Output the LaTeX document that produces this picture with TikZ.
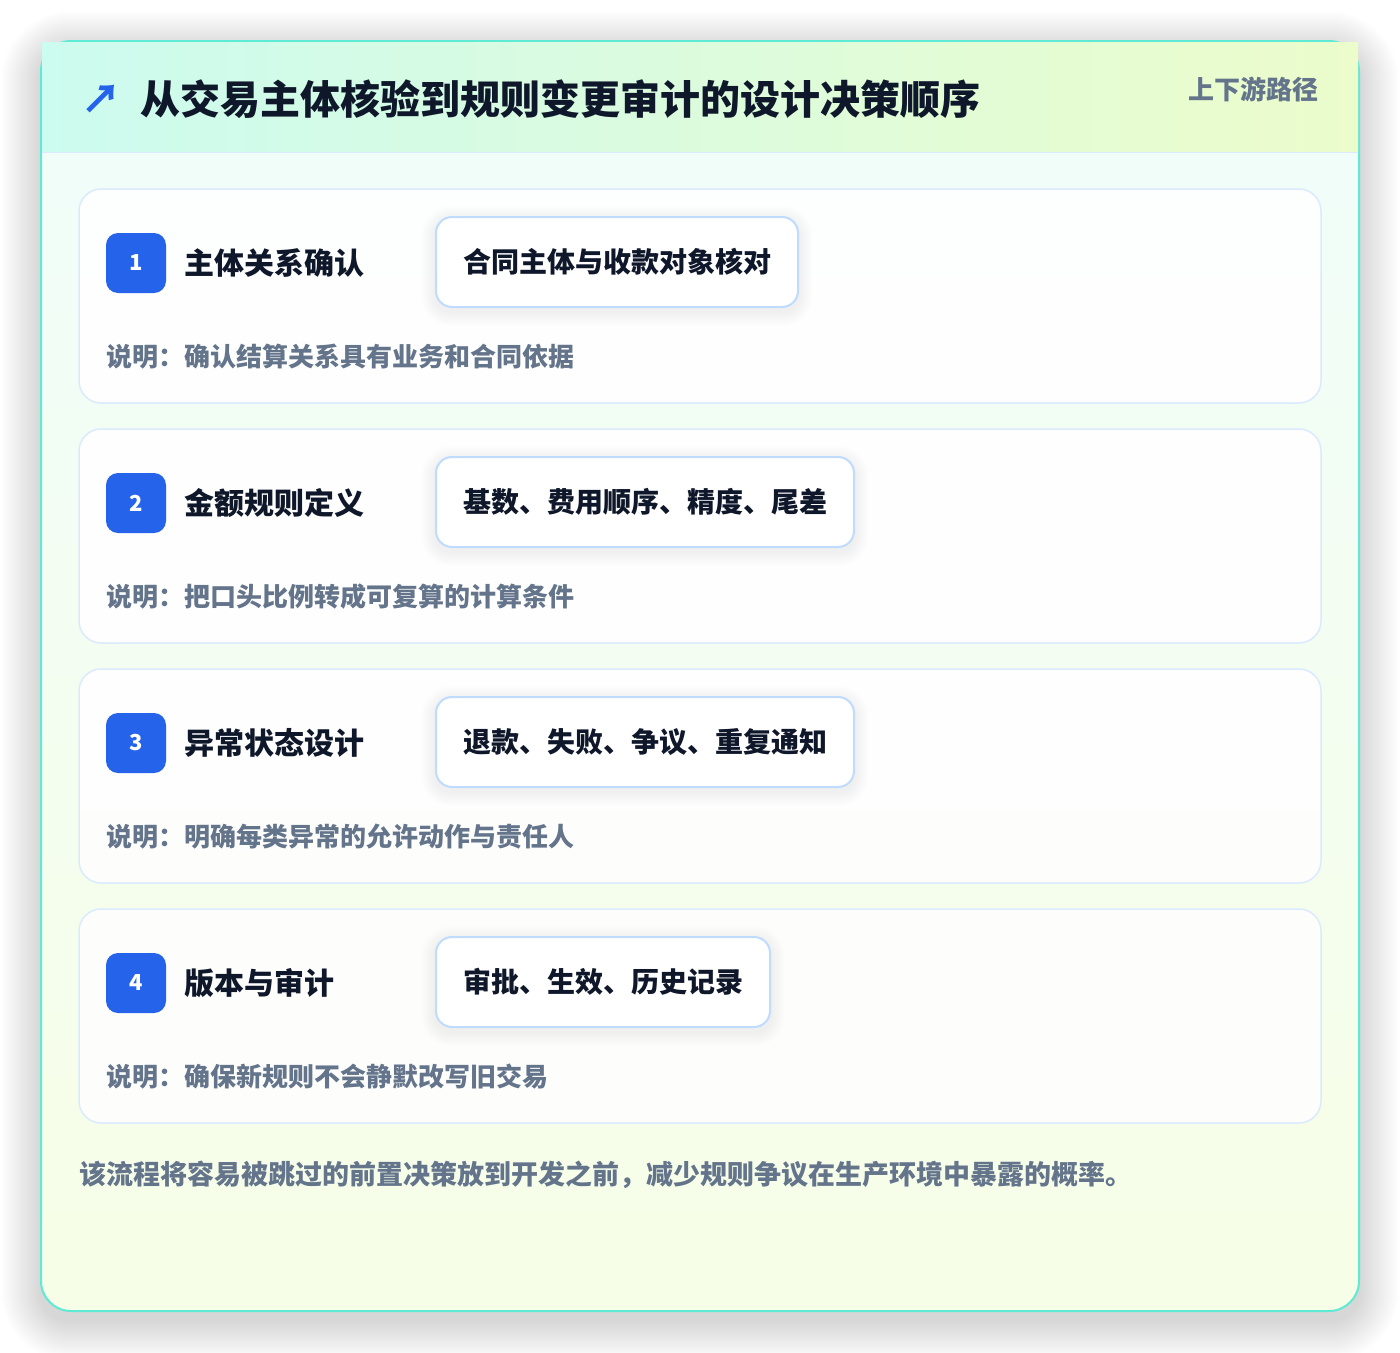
\documentclass[tikz,border=0pt]{standalone}
\usepackage{fontspec}
\setmainfont{Noto Sans CJK SC}
\usetikzlibrary{calc}
\definecolor{frameborder}{HTML}{5EEAD4}
\definecolor{hdrleft}{HTML}{CCFBEF}
\definecolor{hdrright}{HTML}{ECFCCB}
\definecolor{bodytop}{HTML}{F0FDFA}
\definecolor{bodybot}{HTML}{F7FEE7}
\definecolor{cardborder}{HTML}{DBEAFE}
\definecolor{chipborder}{HTML}{BFDBFE}
\definecolor{badgeblue}{HTML}{2563EB}
\definecolor{textdark}{HTML}{0F172A}
\definecolor{textmuted}{HTML}{64748B}
\definecolor{shadowc}{HTML}{1E293B}
\newcommand{\softshadow}[5]{% node, steps, opacity per step, yshift, radius
  \foreach \i in {1,...,#2}{
    \fill[shadowc, opacity=#3, rounded corners=#5+\i]
      ($(#1.north west)+(-\i,-\i+#4)$) rectangle ($(#1.south east)+(\i,\i+#4)$);
  }}
\begin{document}
\begin{tikzpicture}[x=1pt,y=-1pt,
  frame/.style={rectangle, rounded corners=30pt, draw=frameborder, line width=2pt,
    top color=bodytop, bottom color=bodybot, minimum width=1318pt, minimum height=1270pt, inner sep=0pt},
  header/.style={rectangle, left color=hdrleft, right color=hdrright, minimum width=1316pt, minimum height=110pt, inner sep=0pt},
  card/.style={rectangle, rounded corners=22pt, draw=cardborder, line width=1.5pt, fill=white, fill opacity=0.88, draw opacity=1,
    minimum width=1242pt, minimum height=214pt, inner sep=0pt},
  badge/.style={rectangle, rounded corners=12pt, fill=badgeblue, minimum width=60pt, minimum height=60pt, inner sep=0pt,
    text=white, font=\fontsize{22}{26}\selectfont\bfseries},
  steptitle/.style={anchor=west, inner sep=0pt, text=textdark, font=\fontsize{30}{36}\selectfont\bfseries},
  chip/.style={anchor=west, rectangle, rounded corners=16pt, draw=chipborder, line width=2pt, fill=white,
    minimum height=90pt, inner xsep=27pt, inner ysep=0pt, text=textdark, font=\fontsize{28}{34}\selectfont\bfseries},
  chipghost/.style={chip, draw=none, fill=none, text opacity=0},
  desc/.style={anchor=west, inner sep=0pt, text=textmuted, font=\fontsize{26}{32}\selectfont\bfseries}
]
\useasboundingbox (0,0) rectangle (1400,1352);
\fill[white] (0,0) rectangle (1400,1352);

% frame with soft shadow
\node[inner sep=0pt, minimum width=1318pt, minimum height=1270pt] (fshadow) at (700,676) {};
\softshadow{fshadow}{40}{0.002}{10}{30}
\node[frame] (frame) at (700,676) {};
\node[header] (header) at (700,97.25) {};
\draw[cardborder, line width=1.5pt] (header.south west) -- (header.south east);

\node[inner sep=0pt, text=badgeblue, font=\fontsize{40}{44}\selectfont\bfseries] (icon) at (101,99) {↗};
\node[anchor=west, inner sep=0pt, text=textdark, font=\fontsize{40}{48}\selectfont\bfseries] (title) at (140,99) {从交易主体核验到规则变更审计的设计决策顺序};
\node[anchor=east, inner sep=0pt, text=textmuted, font=\fontsize{26}{32}\selectfont\bfseries] (tag) at (1319,89) {上下游路径};

% step 1
\node[card] (card1) at (700,296) {};
\node[badge] (b1) at (136,263) {1};
\node[steptitle] (t1) at (184,263) {主体关系确认};
\node[chipghost] (s1) at (435,262) {合同主体与收款对象核对};
\softshadow{s1}{14}{0.0025}{4}{16}
\node[chip] (c1) at (435,262) {合同主体与收款对象核对};
\node[desc] (d1) at (106,357) {说明：确认结算关系具有业务和合同依据};

% step 2
\node[card] (card2) at (700,536) {};
\node[badge] (b2) at (136,503) {2};
\node[steptitle] (t2) at (184,503) {金额规则定义};
\node[chipghost] (s2) at (435,502) {基数、费用顺序、精度、尾差};
\softshadow{s2}{14}{0.0025}{4}{16}
\node[chip] (c2) at (435,502) {基数、费用顺序、精度、尾差};
\node[desc] (d2) at (106,597) {说明：把口头比例转成可复算的计算条件};

% step 3
\node[card] (card3) at (700,776) {};
\node[badge] (b3) at (136,743) {3};
\node[steptitle] (t3) at (184,743) {异常状态设计};
\node[chipghost] (s3) at (435,742) {退款、失败、争议、重复通知};
\softshadow{s3}{14}{0.0025}{4}{16}
\node[chip] (c3) at (435,742) {退款、失败、争议、重复通知};
\node[desc] (d3) at (106,837) {说明：明确每类异常的允许动作与责任人};

% step 4
\node[card] (card4) at (700,1016) {};
\node[badge] (b4) at (136,983) {4};
\node[steptitle] (t4) at (184,983) {版本与审计};
\node[chipghost] (s4) at (435,982) {审批、生效、历史记录};
\softshadow{s4}{14}{0.0025}{4}{16}
\node[chip] (c4) at (435,982) {审批、生效、历史记录};
\node[desc] (d4) at (106,1077) {说明：确保新规则不会静默改写旧交易};

\node[anchor=west, inner sep=0pt, text=textmuted, font=\fontsize{27}{32}\selectfont\bfseries] (footer) at (79,1175) {该流程将容易被跳过的前置决策放到开发之前，减少规则争议在生产环境中暴露的概率。};
\end{tikzpicture}
\end{document}
